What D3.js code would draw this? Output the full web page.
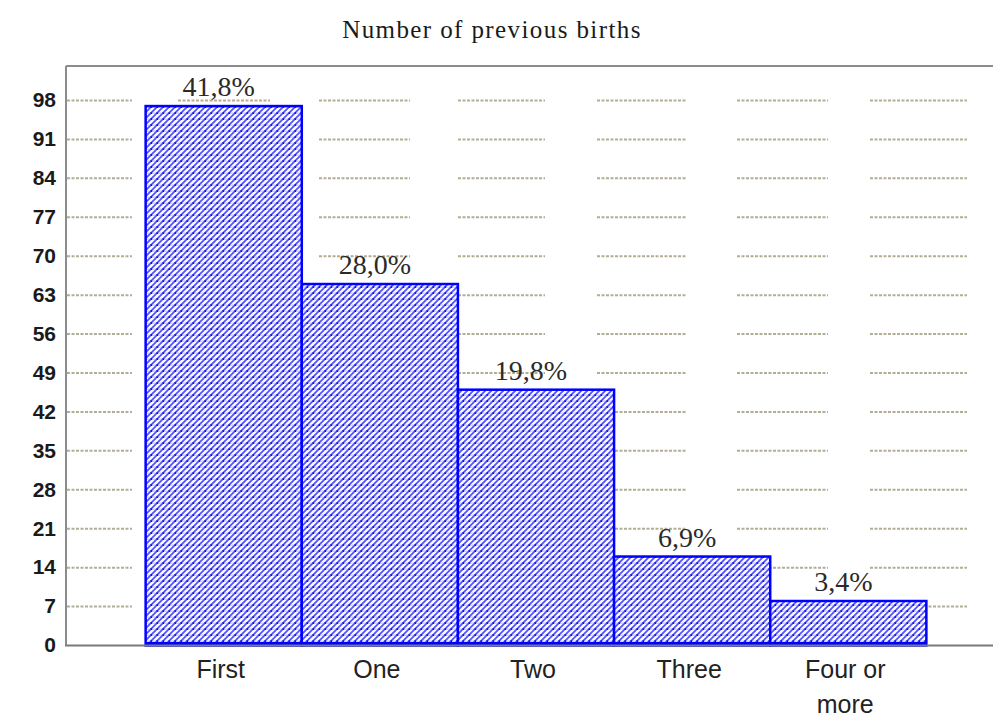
<!DOCTYPE html>
<html>
<head>
<meta charset="utf-8">
<script src="https://cdn.jsdelivr.net/npm/d3@7"></script>
<style>
  html, body { margin: 0; padding: 0; background: #ffffff; }
  svg { display: block; }
</style>
</head>
<body>
<svg id="chart" width="993" height="718"></svg>
<script>
// Births by number of previous births
const title = "Number of previous births";
const categories = ["First", "One", "Two", "Three", "Four or more"];
const categoryLines = [["First"], ["One"], ["Two"], ["Three"], ["Four or", "more"]];
const counts = [97, 65, 46, 16, 8];
const percentLabels = ["41,8%", "28,0%", "19,8%", "6,9%", "3,4%"];
const yTicks = [0, 7, 14, 21, 28, 35, 42, 49, 56, 63, 70, 77, 84, 91, 98];

const W = 993, H = 718;
const plot = { left: 66, top: 66, bottom: 645.5 };

const svg = d3.select("#chart");

// hatch fill used by the bars: diagonal stripes over a dotted grid
const defs = svg.append("defs");
const pat = defs.append("pattern")
  .attr("id", "hatch")
  .attr("patternUnits", "userSpaceOnUse")
  .attr("width", 6).attr("height", 6);
pat.append("rect").attr("width", 6).attr("height", 6).attr("fill", "#ffffff");
pat.append("path")
  .attr("d", "M-1,7 L7,-1 M-4,4 L4,-4 M2,10 L10,2")
  .attr("stroke", "#5050ff").attr("stroke-width", 1.7);
pat.append("rect").attr("x", 0).attr("y", 4.6).attr("width", 6).attr("height", 1)
  .attr("fill", "#8a8aff").attr("opacity", 0.6);
pat.append("rect").attr("x", 0.5).attr("y", 4.3).attr("width", 1.6).attr("height", 1.6)
  .attr("fill", "#0000e6");

const x = d3.scaleBand()
  .domain(categories)
  .range([plot.left, 1006])
  .paddingInner(0)
  .paddingOuter(0.51);

const y = d3.scaleLinear()
  .domain([0, 98])
  .range([plot.bottom, 100.5]);

// dotted grid runs (drawn behind the bars)
const gridRuns = [[67, 132], [178, 270], [319, 410], [458, 545], [597, 687], [737, 828], [870, 967]];
const gridG = svg.append("g");
yTicks.filter(t => t > 0).forEach(t => {
  gridRuns.forEach(([a, b]) => {
    gridG.append("line")
      .attr("x1", a).attr("x2", b)
      .attr("y1", y(t)).attr("y2", y(t))
      .attr("stroke", "#b3ad96")
      .attr("stroke-width", 2)
      .attr("stroke-dasharray", "3,1.5");
  });
});

// frame: top border, left axis
svg.append("line").attr("x1", plot.left).attr("x2", W)
  .attr("y1", plot.top).attr("y2", plot.top)
  .attr("stroke", "#8c8c8c").attr("stroke-width", 2);
svg.append("line").attr("x1", plot.left).attr("x2", plot.left)
  .attr("y1", plot.top).attr("y2", plot.bottom)
  .attr("stroke", "#8c8c8c").attr("stroke-width", 2);

// y axis labels
const yAxis = d3.axisLeft(y).tickValues(yTicks).tickSize(0).tickPadding(10);
const yG = svg.append("g")
  .attr("transform", `translate(${plot.left},0)`)
  .call(yAxis);
yG.select(".domain").remove();
yG.selectAll("text")
  .attr("font-family", "'Liberation Sans', Arial, sans-serif")
  .attr("font-weight", "bold")
  .attr("font-size", 21)
  .attr("fill", "#1a1a1a")
  .attr("dy", "0.3em");

// bars
svg.append("g").selectAll("rect")
  .data(counts)
  .join("rect")
  .attr("x", (d, i) => x(categories[i]))
  .attr("y", d => y(d))
  .attr("width", x.bandwidth())
  .attr("height", d => y(0) - y(d))
  .attr("fill", "url(#hatch)")
  .attr("stroke", "#0000ff")
  .attr("stroke-width", 2.5);

// dark band along the foot of the bars
svg.append("line")
  .attr("x1", x(categories[0])).attr("x2", x(categories[4]) + x.bandwidth())
  .attr("y1", y(0) - 2).attr("y2", y(0) - 2)
  .attr("stroke", "#0000ff").attr("stroke-width", 3);

// baseline
svg.append("line").attr("x1", plot.left - 1).attr("x2", W)
  .attr("y1", plot.bottom).attr("y2", plot.bottom)
  .attr("stroke", "#7a7a7a").attr("stroke-width", 2);

// percentage labels
svg.append("g").selectAll("text")
  .data(counts)
  .join("text")
  .attr("x", (d, i) => x(categories[i]) + x.bandwidth() / 2 - 5)
  .attr("y", d => y(d) - 10)
  .attr("text-anchor", "middle")
  .attr("font-family", "'Liberation Serif', 'Times New Roman', serif")
  .attr("font-size", 28)
  .attr("fill", "#2a2a2a")
  .text((d, i) => percentLabels[i]);

// category labels
const catG = svg.append("g");
categories.forEach((c, i) => {
  const cx = x(c) + x.bandwidth() / 2 - 3;
  const t = catG.append("text")
    .attr("x", cx)
    .attr("y", 678)
    .attr("text-anchor", "middle")
    .attr("font-family", "'Liberation Sans', Arial, sans-serif")
    .attr("font-size", 25)
    .attr("fill", "#222");
  categoryLines[i].forEach((line, k) => {
    t.append("tspan")
      .attr("x", cx)
      .attr("dy", k === 0 ? 0 : 35)
      .text(line);
  });
});

// title
svg.append("text")
  .attr("x", 492)
  .attr("y", 38)
  .attr("text-anchor", "middle")
  .attr("font-family", "'Liberation Serif', 'Times New Roman', serif")
  .attr("font-size", 25)
  .attr("letter-spacing", 1.4)
  .attr("fill", "#1a1a1a")
  .text(title);
</script>
</body>
</html>
